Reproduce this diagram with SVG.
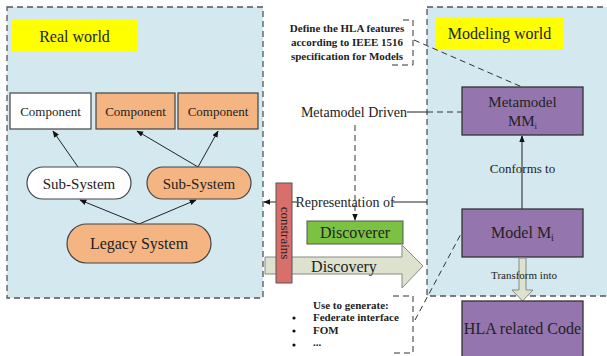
<svg xmlns="http://www.w3.org/2000/svg" width="607" height="356" viewBox="0 0 607 356" font-family="'Liberation Serif', 'Times New Roman', Times, serif">
<defs>
<style>
text{font-family:'Liberation Serif','Times New Roman',Times,serif;fill:#222;}
.panel{fill:#d3e9ef;stroke:#555;stroke-width:1.3;stroke-dasharray:6,4;}
.yl{fill:#ffff00;}
.or{fill:#f5b582;stroke:#444;stroke-width:1.2;}
.wh{fill:#ffffff;stroke:#444;stroke-width:1.2;}
.pu{fill:#9575ad;stroke:#333;stroke-width:1.3;}
.ln{stroke:#222;stroke-width:1;fill:none;}
.dl{stroke:#333;stroke-width:1;fill:none;stroke-dasharray:6,4;}
.bold{font-weight:bold;font-size:11px;}
</style>
<marker id="ah" viewBox="0 0 10 10" refX="9" refY="5" markerWidth="7" markerHeight="7" orient="auto-start-reverse">
<path d="M0,1 L10,5 L0,9 z" fill="#111"/>
</marker>
</defs>

<rect class="panel" x="7" y="7" width="256" height="291"/>
<rect class="panel" x="427" y="7" width="190" height="289"/>

<g id="real-world-label"><rect class="yl" x="11" y="20" width="127" height="32"/><text x="74.5" y="41.5" font-size="16" text-anchor="middle">Real world</text></g>
<g id="modeling-world-label"><rect class="yl" x="436" y="17" width="127" height="32"/><text x="499.5" y="38.5" font-size="16" text-anchor="middle">Modeling world</text></g>

<g id="connectors">
<line class="ln" x1="78" y1="167" x2="53" y2="131" marker-end="url(#ah)"/>
<line class="ln" x1="198" y1="167" x2="137" y2="131" marker-end="url(#ah)"/>
<line class="ln" x1="198" y1="167" x2="218" y2="131" marker-end="url(#ah)"/>
<line class="ln" x1="139" y1="224" x2="80" y2="200" marker-end="url(#ah)"/>
<line class="ln" x1="139" y1="224" x2="196" y2="200" marker-end="url(#ah)"/>
<line class="ln" x1="522" y1="209" x2="522" y2="136" marker-end="url(#ah)"/>
<line class="ln" x1="407" y1="112" x2="427" y2="112"/>
<line class="dl" x1="427" y1="112" x2="462" y2="112" stroke-dasharray="14,5"/>
<line class="dl" x1="355" y1="125" x2="355" y2="220" stroke-dasharray="14,6" marker-end="url(#ah)"/>
<line class="ln" x1="297" y1="202" x2="264" y2="202" marker-end="url(#ah)"/>
<line class="ln" x1="393" y1="202" x2="427" y2="202"/>
<line class="dl" x1="414" y1="40" x2="522" y2="87"/>
<line class="dl" x1="415" y1="320" x2="462" y2="232"/>
</g>

<g id="component-1"><rect class="wh" x="10" y="93" width="81" height="36"/><text x="50.5" y="115.5" font-size="13" text-anchor="middle">Component</text></g>
<g id="component-2"><rect class="or" x="96" y="93" width="79" height="36"/><text x="135.5" y="115.5" font-size="13" text-anchor="middle">Component</text></g>
<g id="component-3"><rect class="or" x="178" y="93" width="80" height="36"/><text x="218" y="115.5" font-size="13" text-anchor="middle">Component</text></g>

<g id="sub-system-1"><rect class="wh" x="27" y="167" width="104" height="32" rx="16"/><text x="79" y="188.5" font-size="15" text-anchor="middle">Sub-System</text></g>
<g id="sub-system-2"><rect class="or" x="147" y="167" width="104" height="32" rx="16"/><text x="199" y="188.5" font-size="15" text-anchor="middle">Sub-System</text></g>
<g id="legacy-system"><rect class="or" x="67" y="224" width="144" height="39" rx="19.5"/><text x="139" y="249" font-size="16" text-anchor="middle">Legacy System</text></g>

<g id="hla-note">
<text class="bold" x="347" y="32" text-anchor="middle">Define the HLA features</text>
<text class="bold" x="347" y="46" text-anchor="middle">according to IEEE 1516</text>
<text class="bold" x="347" y="60" text-anchor="middle">specification for Models</text>
<path class="dl" d="M403,20 H413 V65 H391" stroke-dasharray="5,4"/>
</g>

<g id="metamodel-driven"><text x="354" y="117" font-size="14" text-anchor="middle">Metamodel Driven</text></g>

<g id="metamodel"><rect class="pu" x="462" y="87" width="121" height="48"/><text x="522.5" y="107" font-size="15" text-anchor="middle">Metamodel</text><text x="522.5" y="126" font-size="15" text-anchor="middle">MM<tspan font-size="9" dy="3">i</tspan></text></g>

<g id="conforms-to"><text x="522.5" y="173" font-size="13" text-anchor="middle">Conforms to</text></g>

<g id="discovery">
<path d="M265,257 H402 V245 L423,266 L402,288 V274 H265 Z" fill="#dde2cf" stroke="#888" stroke-width="1"/>
<text x="344" y="272" font-size="16" text-anchor="middle">Discovery</text>
</g>

<g id="constrains"><rect x="276" y="183" width="16" height="100" fill="#d86f6a" stroke="#555" stroke-width="1"/><text x="284" y="233" font-size="13" text-anchor="middle" dominant-baseline="middle" transform="rotate(90 284 233)">constrains</text></g>

<g id="representation-of"><text x="345" y="207" font-size="14" text-anchor="middle">Representation of</text></g>

<g id="discoverer"><rect x="307" y="221" width="96" height="23" fill="#7cc242" stroke="#555" stroke-width="1"/><text x="355" y="238" font-size="16" text-anchor="middle">Discoverer</text></g>

<g id="model"><rect class="pu" x="462" y="209" width="121" height="48"/><text x="522.5" y="238" font-size="16" text-anchor="middle">Model M<tspan font-size="10" dy="3">i</tspan></text></g>

<g id="transform">
<path d="M519,258 H526 V290 H533 L522.5,301 L512,290 H519 Z" fill="#dde2cf" stroke="#888" stroke-width="1"/>
<text x="524" y="279" font-size="11" text-anchor="middle">Transform into</text>
</g>

<g id="hla-code"><rect class="pu" x="462" y="301" width="121" height="60"/><text x="522.5" y="334" font-size="16" text-anchor="middle">HLA related Code</text></g>

<g id="generate-note">
<text class="bold" x="313" y="309">Use to generate:</text>
<circle cx="294" cy="318" r="1.6" fill="#111"/><text class="bold" x="313" y="321">Federate interface</text>
<circle cx="294" cy="331" r="1.6" fill="#111"/><text class="bold" x="313" y="334">FOM</text>
<circle cx="294" cy="345" r="1.6" fill="#111"/><text class="bold" x="313" y="346">...</text>
<path class="dl" d="M393,296 H413 V353 H393" stroke-dasharray="5,4"/>
</g>
</svg>
